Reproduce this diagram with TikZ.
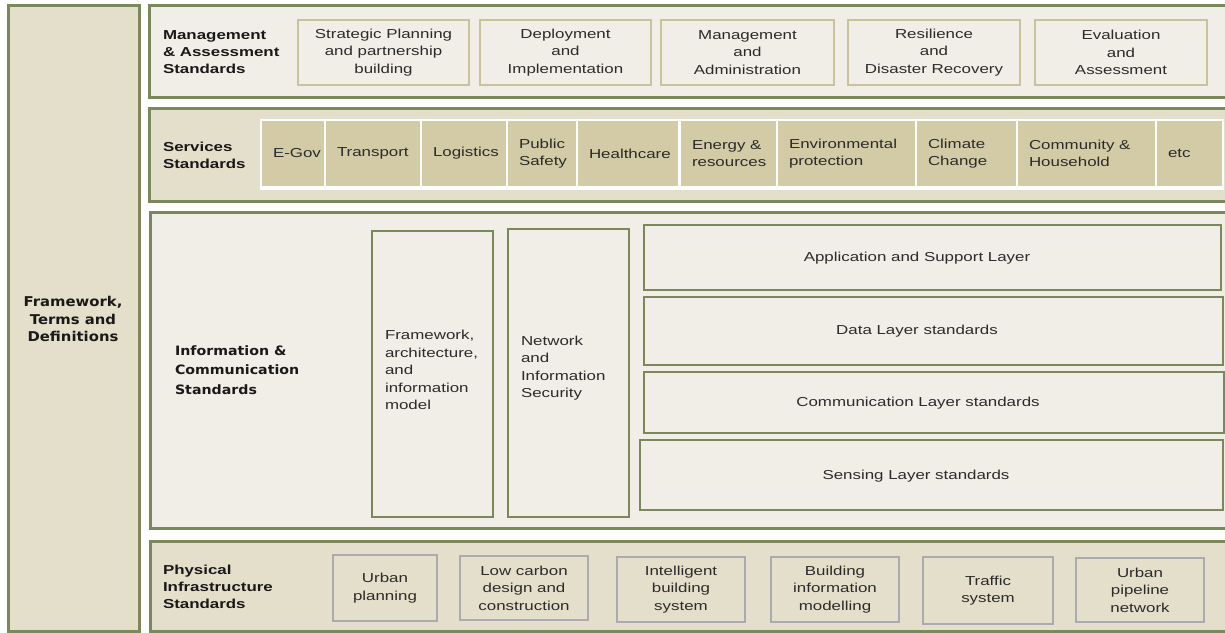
\documentclass[tikz,border=0pt]{standalone}
\usepackage{fontspec}
\setmainfont[FakeStretch=1.3]{Liberation Sans}
\newfontfamily\dvfont[FakeStretch=1.1]{DejaVu Sans}
\definecolor{frameC}{HTML}{7A885C}
\definecolor{lightC}{HTML}{F0EEE6}
\definecolor{beigeC}{HTML}{E4DFCA}
\definecolor{tanC}{HTML}{D3CBA5}
\definecolor{mboxC}{HTML}{C9C39B}
\definecolor{pboxC}{HTML}{A9AAB2}
\definecolor{txtC}{HTML}{2B2B2B}
\begin{document}
\begin{tikzpicture}[x=1pt,y=-1pt,
  every node/.style={inner sep=0pt, outer sep=0pt},
  frame/.style={draw=frameC, line width=3pt, anchor=north west},
  mbox/.style={draw=mboxC, line width=1.6pt, fill=lightC, anchor=north west, align=center,
    font=\fontsize{13}{17.5}\selectfont, text=txtC},
  pbox/.style={draw=pboxC, line width=1.6pt, fill=beigeC, anchor=north west, align=center,
    font=\fontsize{13}{17.5}\selectfont, text=txtC},
  cell/.style={fill=tanC, anchor=north west, minimum height=65},
  celltxt/.style={anchor=west, align=left, font=\fontsize{13}{17}\selectfont, text=txtC},
  lbox/.style={draw=frameC, line width=1.8pt, fill=lightC, anchor=north west},
  plain/.style={font=\fontsize{13}{17.5}\selectfont, text=txtC},
  grouplbl/.style={anchor=west, align=left, font=\fontsize{13}{17.2}\selectfont\bfseries, text=black!90},
]
\useasboundingbox (0,0) rectangle (1225,632);
\fill[white] (0,0) rectangle (1225,632);

% left column
\node[frame, fill=beigeC, minimum width=131, minimum height=626] (ftd) at (8,5) {};
\node[align=center, font=\dvfont\fontsize{13.5}{17.5}\selectfont\bfseries, text=black!90]
  (ftdlbl) at (73,319) {Framework,\\Terms and\\Definitions};

% management & assessment
\node[frame, fill=lightC, minimum width=1085, minimum height=92] (mgmt) at (149,5) {};
\node[grouplbl] (mgmtlbl) at (163,52) {Management\\\& Assessment\\Standards};
\node[mbox, minimum width=171, minimum height=65] (m1) at (298,20) {Strategic Planning\\and partnership\\building};
\node[mbox, minimum width=171, minimum height=65] (m2) at (480,20) {Deployment\\and\\Implementation};
\node[mbox, minimum width=173, minimum height=65] (m3) at (661,20) {Management\\and\\Administration};
\node[mbox, minimum width=172, minimum height=65] (m4) at (848,20) {Resilience\\and\\Disaster Recovery};
\node[mbox, minimum width=172, minimum height=65] (m5) at (1035,20) {Evaluation\\and\\Assessment};

% services
\node[frame, fill=beigeC, minimum width=1085, minimum height=93] (serv) at (149,108) {};
\node[grouplbl] (servlbl) at (163,155) {Services\\Standards};
\node[fill=white, anchor=north west, minimum width=964, minimum height=71] (row) at (260,119) {};
\foreach \n/\x/\w/\t in {
  s1/262/62/{E-Gov},
  s2/326/94/{Transport},
  s3/422/84/{Logistics},
  s4/508/68/{Public\\Safety},
  s5/578/100/{Healthcare},
  s6/681/95/{Energy \&\\resources},
  s7/778/137/{Environmental\\protection},
  s8/917/99/{Climate\\Change},
  s9/1018/137/{Community \&\\Household},
  s10/1157/65/{etc}}{
  \node[cell, minimum width=\w] (\n) at (\x,121) {};
  \node[celltxt] (\n t) at ([xshift=11pt]\n.west) {\t};
}

% information & communication
\node[frame, fill=lightC, minimum width=1085, minimum height=316] (info) at (150,212) {};
\node[anchor=west, align=left, font=\dvfont\fontsize{12.9}{19.5}\selectfont\bfseries, text=black!90]
  (infolbl) at (175,370) {Information \&\\Communication\\Standards};
\node[lbox, minimum width=121, minimum height=286] (fw) at (372,231) {};
\node[plain, anchor=west, align=left] (fwt) at (385,370)
  {Framework,\\architecture,\\and\\information\\model};
\node[lbox, minimum width=121, minimum height=288] (net) at (508,229) {};
\node[plain, anchor=west, align=left] (nett) at (521,368)
  {Network\\and\\Information\\Security};
\node[lbox, minimum width=577, minimum height=65] (app) at (644,225) {};
\node[plain] (appt) at (917,258) {Application and Support Layer};
\node[lbox, minimum width=579, minimum height=68] (data) at (644,297) {};
\node[plain] (datat) at (917,331) {Data Layer standards};
\node[lbox, minimum width=580, minimum height=61] (comm) at (644,372) {};
\node[plain] (commt) at (918,403) {Communication Layer standards};
\node[lbox, minimum width=583, minimum height=70] (sens) at (640,440) {};
\node[plain] (senst) at (916,476) {Sensing Layer standards};

% physical infrastructure
\node[frame, fill=beigeC, minimum width=1085, minimum height=90] (phys) at (150,541) {};
\node[grouplbl] (physlbl) at (163,587) {Physical\\Infrastructure\\Standards};
\node[pbox, minimum width=104, minimum height=66] (p1) at (333,555) {Urban\\planning};
\node[pbox, minimum width=128, minimum height=64] (p2) at (460,556) {Low carbon\\design and\\construction};
\node[pbox, minimum width=128, minimum height=65] (p3) at (617,557) {Intelligent\\building\\system};
\node[pbox, minimum width=128, minimum height=65] (p4) at (771,557) {Building\\information\\modelling};
\node[pbox, minimum width=130, minimum height=67] (p5) at (923,557) {Traffic\\system};
\node[pbox, minimum width=128, minimum height=64] (p6) at (1076,558) {Urban\\pipeline\\network};
\end{tikzpicture}
\end{document}
